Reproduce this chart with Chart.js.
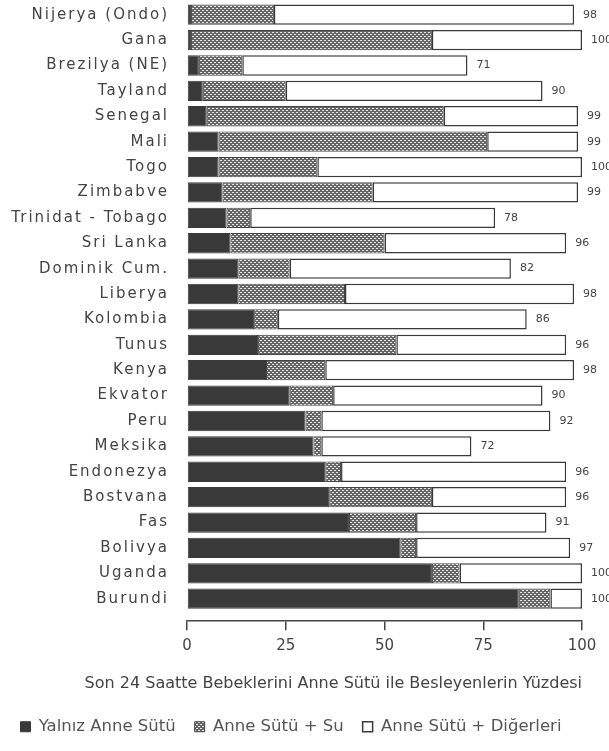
<!DOCTYPE html>
<html>
<head>
<meta charset="utf-8">
<script src="https://cdn.jsdelivr.net/npm/chart.js@4.4.1/dist/chart.umd.min.js"></script>
<style>
  html, body { margin: 0; padding: 0; background: #fff; }
  #wrap { width: 609px; height: 751px; position: relative; }
</style>
</head>
<body>
<div id="wrap"><canvas id="breastChart"></canvas></div>
<script>
// Countries, top to bottom
const countries = [
  'Nijerya (Ondo)', 'Gana', 'Brezilya (NE)', 'Tayland', 'Senegal', 'Mali', 'Togo',
  'Zimbabve', 'Trinidat - Tobago', 'Sri Lanka', 'Dominik Cum.', 'Liberya', 'Kolombia',
  'Tunus', 'Kenya', 'Ekvator', 'Peru', 'Meksika', 'Endonezya', 'Bostvana', 'Fas',
  'Bolivya', 'Uganda', 'Burundi'
];

// Yalnız Anne Sütü
const onlyMilk = [1, 1, 3, 4, 5, 8, 8, 9, 10, 11, 13, 13, 17, 18, 20, 26, 30, 32, 35, 36, 41, 54, 62, 84];
// Anne Sütü + Su
const milkWater = [21, 61, 11, 21, 60, 68, 25, 38, 6, 39, 13, 27, 6, 35, 15, 11, 4, 2, 4, 26, 17, 4, 7, 8];
// Anne Sütü + Diğerleri
const milkOther = [76, 38, 57, 65, 34, 23, 67, 52, 62, 46, 56, 58, 63, 43, 63, 53, 58, 38, 57, 34, 33, 39, 31, 8];

const xTickStep = 25;

// dotted grey fill for the "+ Su" segment
function dotPattern() {
  const c = document.createElement('canvas');
  c.width = 4; c.height = 4;
  const g = c.getContext('2d');
  g.fillStyle = '#666';
  g.fillRect(0, 0, 4, 4);
  g.fillStyle = '#e6e6e6';
  g.fillRect(0, 0, 2, 1);
  g.fillRect(2, 2, 2, 1);
  return g.createPattern(c, 'repeat');
}
const hatch = dotPattern();

// category axis whose labels are typeset a bit wider, like the printed original
class SpacedCategoryScale extends Chart.CategoryScale {
  static id = 'spacedCategory';
  drawLabels(area) {
    const c = this.ctx;
    c.save();
    c.letterSpacing = '2px';
    super.drawLabels(area);
    c.restore();
  }
}
Chart.register(SpacedCategoryScale);

// total written to the right of each bar
const totalLabels = {
  id: 'totalLabels',
  afterDatasetsDraw(chart) {
    const ctx = chart.ctx;
    const last = chart.getDatasetMeta(2);
    ctx.save();
    ctx.font = '11px "DejaVu Sans"';
    ctx.fillStyle = '#444';
    ctx.textBaseline = 'middle';
    last.data.forEach((bar, i) => {
      const total = onlyMilk[i] + milkWater[i] + milkOther[i];
      ctx.fillText(String(total), bar.x + 9, bar.y);
    });
    ctx.restore();
  }
};

const ctx = document.getElementById('breastChart').getContext('2d');
new Chart(ctx, {
  type: 'bar',
  data: {
    labels: countries,
    datasets: [
      {
        label: 'Yalnız Anne Sütü',
        data: onlyMilk,
        backgroundColor: '#393939',
        borderColor: '#393939',
        borderWidth: 1,
        borderSkipped: false,
      },
      {
        label: 'Anne Sütü + Su',
        data: milkWater,
        backgroundColor: hatch,
        borderColor: '#444',
        borderWidth: 1,
        borderSkipped: false,
      },
      {
        label: 'Anne Sütü + Diğerleri',
        data: milkOther,
        backgroundColor: '#fff',
        borderColor: '#3a3a3a',
        borderWidth: 1.5,
        borderSkipped: false,
      },
    ],
  },
  options: {
    indexAxis: 'y',
    responsive: true,
    maintainAspectRatio: false,
    animation: false,
    datasets: { bar: { categoryPercentage: 1, barPercentage: 0.8 } },
    layout: { padding: { top: 2, right: 27, left: 0, bottom: 6 } },
    plugins: {
      // axis caption sits between the x axis and the legend
      title: {
        display: true,
        position: 'bottom',
        weight: 500,
        align: 'end',
        text: 'Son 24 Saatte Bebeklerini Anne Sütü ile Besleyenlerin Yüzdesi',
        color: '#444',
        padding: { top: 12, bottom: 6 },
        font: { size: 16, weight: 'normal', family: '"DejaVu Sans"' },
      },
      legend: {
        position: 'bottom',
        labels: {
          color: '#555',
          boxWidth: 10,
          boxHeight: 10,
          padding: 19,
          font: { size: 16.5, family: '"DejaVu Sans"' },
        },
      },
      tooltip: { enabled: false },
    },
    scales: {
      x: {
        stacked: true,
        min: 0,
        max: 100,
        ticks: {
          stepSize: xTickStep,
          color: '#444',
          padding: 7,
          font: { size: 15, family: '"DejaVu Sans"' },
        },
        grid: { drawOnChartArea: false, tickLength: 10, color: '#444', lineWidth: 1.5 },
        border: { display: true, color: '#444', width: 1.5 },
      },
      y: {
        type: 'spacedCategory',
        stacked: true,
        // a little empty room under the last bar, as in the original
        afterBuildTicks: (scale) => { scale._valueRange += 0.35; },
        afterFit: (scale) => {
          scale.width = 187;
          scale.paddingTop = 0;
          scale.paddingBottom = 0;
        },
        ticks: {
          color: '#444',
          padding: 10,
          autoSkip: false,
          font: { size: 15, family: '"DejaVu Sans"' },
        },
        grid: { display: false },
        border: { display: false },
      },
    },
  },
  plugins: [totalLabels],
});
</script>
</body>
</html>
